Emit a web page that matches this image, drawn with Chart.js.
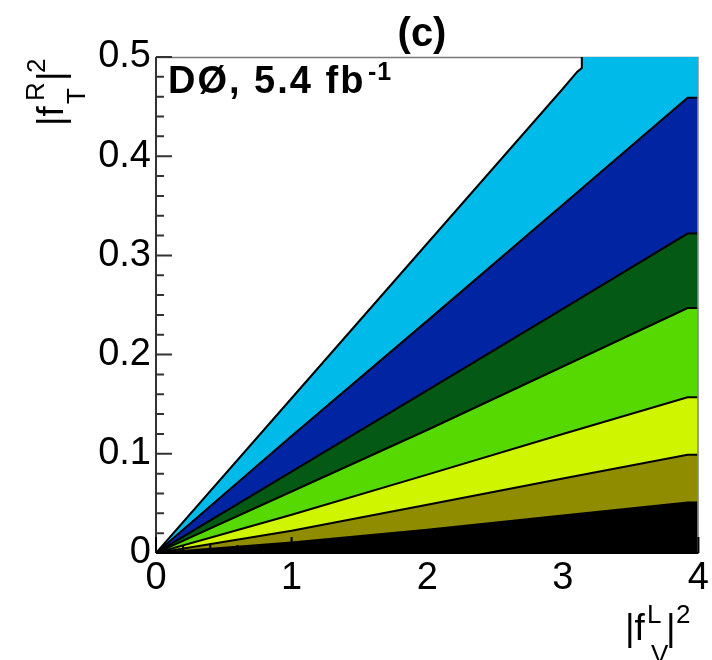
<!DOCTYPE html>
<html>
<head>
<meta charset="utf-8">
<script src="https://cdn.jsdelivr.net/npm/chart.js@4.4.1/dist/chart.umd.min.js"></script>
<style>
  html, body { margin: 0; padding: 0; background: #fff; }
  #wrap { width: 712px; height: 660px; position: relative; }
</style>
</head>
<body>
<div id="wrap"><canvas id="contour"></canvas></div>
<script>
// |fV^L|^2 values along which the band edges were read
const xPts = [0, 1, 2, 3, 3.92, 4];
// upper edge of each band (|fT^R|^2), bottom band first
const edgeBlack  = [0, 0.0106, 0.0235, 0.0378, 0.051, 0.051];
const edgeOlive  = [0, 0.0225, 0.0486, 0.075, 0.099, 0.099];
const edgeYellow = [0, 0.0385, 0.079, 0.120, 0.157, 0.157];
const edgeLime   = [0, 0.062, 0.124, 0.188, 0.247, 0.247];
const edgeGreen  = [0, 0.082, 0.164, 0.246, 0.322, 0.322];
const edgeBlue   = [0, 0.118, 0.234, 0.351, 0.459, 0.459];
// outermost contour, it runs into the top of the frame
const outerX = [0, 1, 2, 3, 3.105, 3.14, 3.14];
const outerY = [0, 0.156, 0.312, 0.468, 0.485, 0.489, 0.5];
const frameTop = 0.5;
const frameRight = 4;

const bandColors = ['#000000', '#908c00', '#d0f500', '#55d900', '#045a14', '#0024a2', '#00bbe9'];

const xTicks = [0, 1, 2, 3, 4];
const yTicks = [0, 0.1, 0.2, 0.3, 0.4, 0.5];
const minorPerMajor = 5;

const FONT = '"Liberation Sans", Arial, Helvetica, sans-serif';

function pts(xs, ys) {
    return xs.map((x, i) => ({ x: x, y: ys[i] }));
}

const outer = pts(outerX, outerY);
const bands = [edgeBlack, edgeOlive, edgeYellow, edgeLime, edgeGreen, edgeBlue].map(e => pts(xPts, e));
// outer band is closed along the top of the frame
bands.push(outer.concat([{ x: frameRight, y: frameTop }]));

const datasets = [{
    // outline of the outer band only, drawn on top
    data: outer,
    fill: false,
    borderColor: '#000',
    borderWidth: 2,
    pointRadius: 0,
    tension: 0
}];
bands.forEach((d, i) => {
    datasets.push({
        data: d,
        fill: 'origin',
        backgroundColor: bandColors[i],
        borderColor: '#000',
        borderWidth: i === bands.length - 1 ? 0 : 2,
        pointRadius: 0,
        tension: 0
    });
});

function minorValues(majors) {
    const out = [];
    for (let i = 0; i < majors.length - 1; i++) {
        const step = (majors[i + 1] - majors[i]) / minorPerMajor;
        for (let k = 1; k < minorPerMajor; k++) out.push(majors[i] + k * step);
    }
    return out;
}

const framePlugin = {
    id: 'frame',
    beforeDatasetsDraw(chart) {
        const { ctx, chartArea: a } = chart;
        ctx.save();
        ctx.strokeStyle = '#777';
        ctx.lineWidth = 1.5;
        ctx.beginPath();
        ctx.moveTo(a.left, a.top + 0.5);
        ctx.lineTo(a.right, a.top + 0.5);
        ctx.stroke();
        ctx.restore();
    },
    afterDatasetsDraw(chart) {
        const { ctx, chartArea: a, scales } = chart;
        const xs = scales.x, ys = scales.y;
        ctx.save();
        // right frame
        ctx.strokeStyle = '#888';
        ctx.lineWidth = 1.5;
        ctx.beginPath();
        ctx.moveTo(a.right - 0.5, a.top);
        ctx.lineTo(a.right - 0.5, a.bottom);
        ctx.stroke();

        // y axis with ticks pointing inside
        ctx.strokeStyle = '#333';
        ctx.lineWidth = 2;
        ctx.beginPath();
        ctx.moveTo(a.left, a.bottom);
        ctx.lineTo(a.left, a.top);
        yTicks.forEach(v => {
            const p = ys.getPixelForValue(v);
            ctx.moveTo(a.left, p);
            ctx.lineTo(a.left + 16, p);
        });
        minorValues(yTicks).forEach(v => {
            const p = ys.getPixelForValue(v);
            ctx.moveTo(a.left, p);
            ctx.lineTo(a.left + 8, p);
        });
        ctx.stroke();

        // x axis
        ctx.strokeStyle = '#000';
        ctx.beginPath();
        ctx.moveTo(a.left, a.bottom);
        ctx.lineTo(a.right, a.bottom);
        xTicks.forEach(v => {
            const p = xs.getPixelForValue(v);
            ctx.moveTo(p, a.bottom);
            ctx.lineTo(p, a.bottom - 16);
        });
        minorValues(xTicks).forEach(v => {
            const p = xs.getPixelForValue(v);
            ctx.moveTo(p, a.bottom);
            ctx.lineTo(p, a.bottom - 8);
        });
        ctx.stroke();
        ctx.restore();
    },
    afterDraw(chart) {
        const ctx = chart.ctx;
        ctx.save();
        ctx.fillStyle = '#000';
        ctx.textBaseline = 'alphabetic';

        // panel label
        ctx.font = 'bold 40px ' + FONT;
        ctx.textAlign = 'center';
        ctx.fillText('(c)', 422, 46);

        // experiment label
        ctx.textAlign = 'left';
        ctx.letterSpacing = '2px';
        ctx.font = 'bold 38px ' + FONT;
        ctx.fillText('DØ, 5.4 fb', 168, 93);
        ctx.font = 'bold 25px ' + FONT;
        ctx.letterSpacing = '1px';
        ctx.fillText('-1', 368, 80);
        ctx.letterSpacing = '0px';

        // x title |f_V^L|^2
        ctx.font = '37px ' + FONT;
        ctx.fillText('|f', 625, 640);
        ctx.fillText('|', 666, 640);
        ctx.font = '26px ' + FONT;
        ctx.fillText('L', 647, 623);
        ctx.fillText('V', 651, 663);
        ctx.fillText('2', 676, 623);

        // y title |f_T^R|^2, rotated
        ctx.translate(63, 126);
        ctx.rotate(-Math.PI / 2);
        ctx.font = '37px ' + FONT;
        ctx.fillText('|f', 0, 0);
        ctx.fillText('|', 45, 0);
        ctx.font = '26px ' + FONT;
        ctx.fillText('R', 25, -19);
        ctx.fillText('T', 22, 22);
        ctx.fillText('2', 53, -18);
        ctx.restore();
    }
};

const tickFont = { family: FONT, size: 38 };

new Chart(document.getElementById('contour'), {
    type: 'line',
    data: { datasets: datasets },
    options: {
        responsive: true,
        maintainAspectRatio: false,
        animation: false,
        layout: { padding: { left: 0, top: 57, right: 6, bottom: 0 } },
        plugins: { legend: { display: false }, tooltip: { enabled: false } },
        scales: {
            x: {
                type: 'linear', min: 0, max: 4,
                grid: { display: false, drawTicks: false },
                border: { display: false },
                afterBuildTicks: s => { s.ticks = xTicks.map(v => ({ value: v })); },
                afterFit: s => { s.height = 107; },
                ticks: { font: tickFont, color: '#000', padding: 3, maxRotation: 0, callback: v => String(v) }
            },
            y: {
                type: 'linear', min: 0, max: 0.5,
                grid: { display: false, drawTicks: false },
                border: { display: false },
                afterBuildTicks: s => { s.ticks = yTicks.map(v => ({ value: v })); },
                afterFit: s => { s.width = 156; },
                ticks: { font: tickFont, color: '#000', padding: 5, callback: v => String(v) }
            }
        }
    },
    plugins: [framePlugin]
});
</script>
</body>
</html>
